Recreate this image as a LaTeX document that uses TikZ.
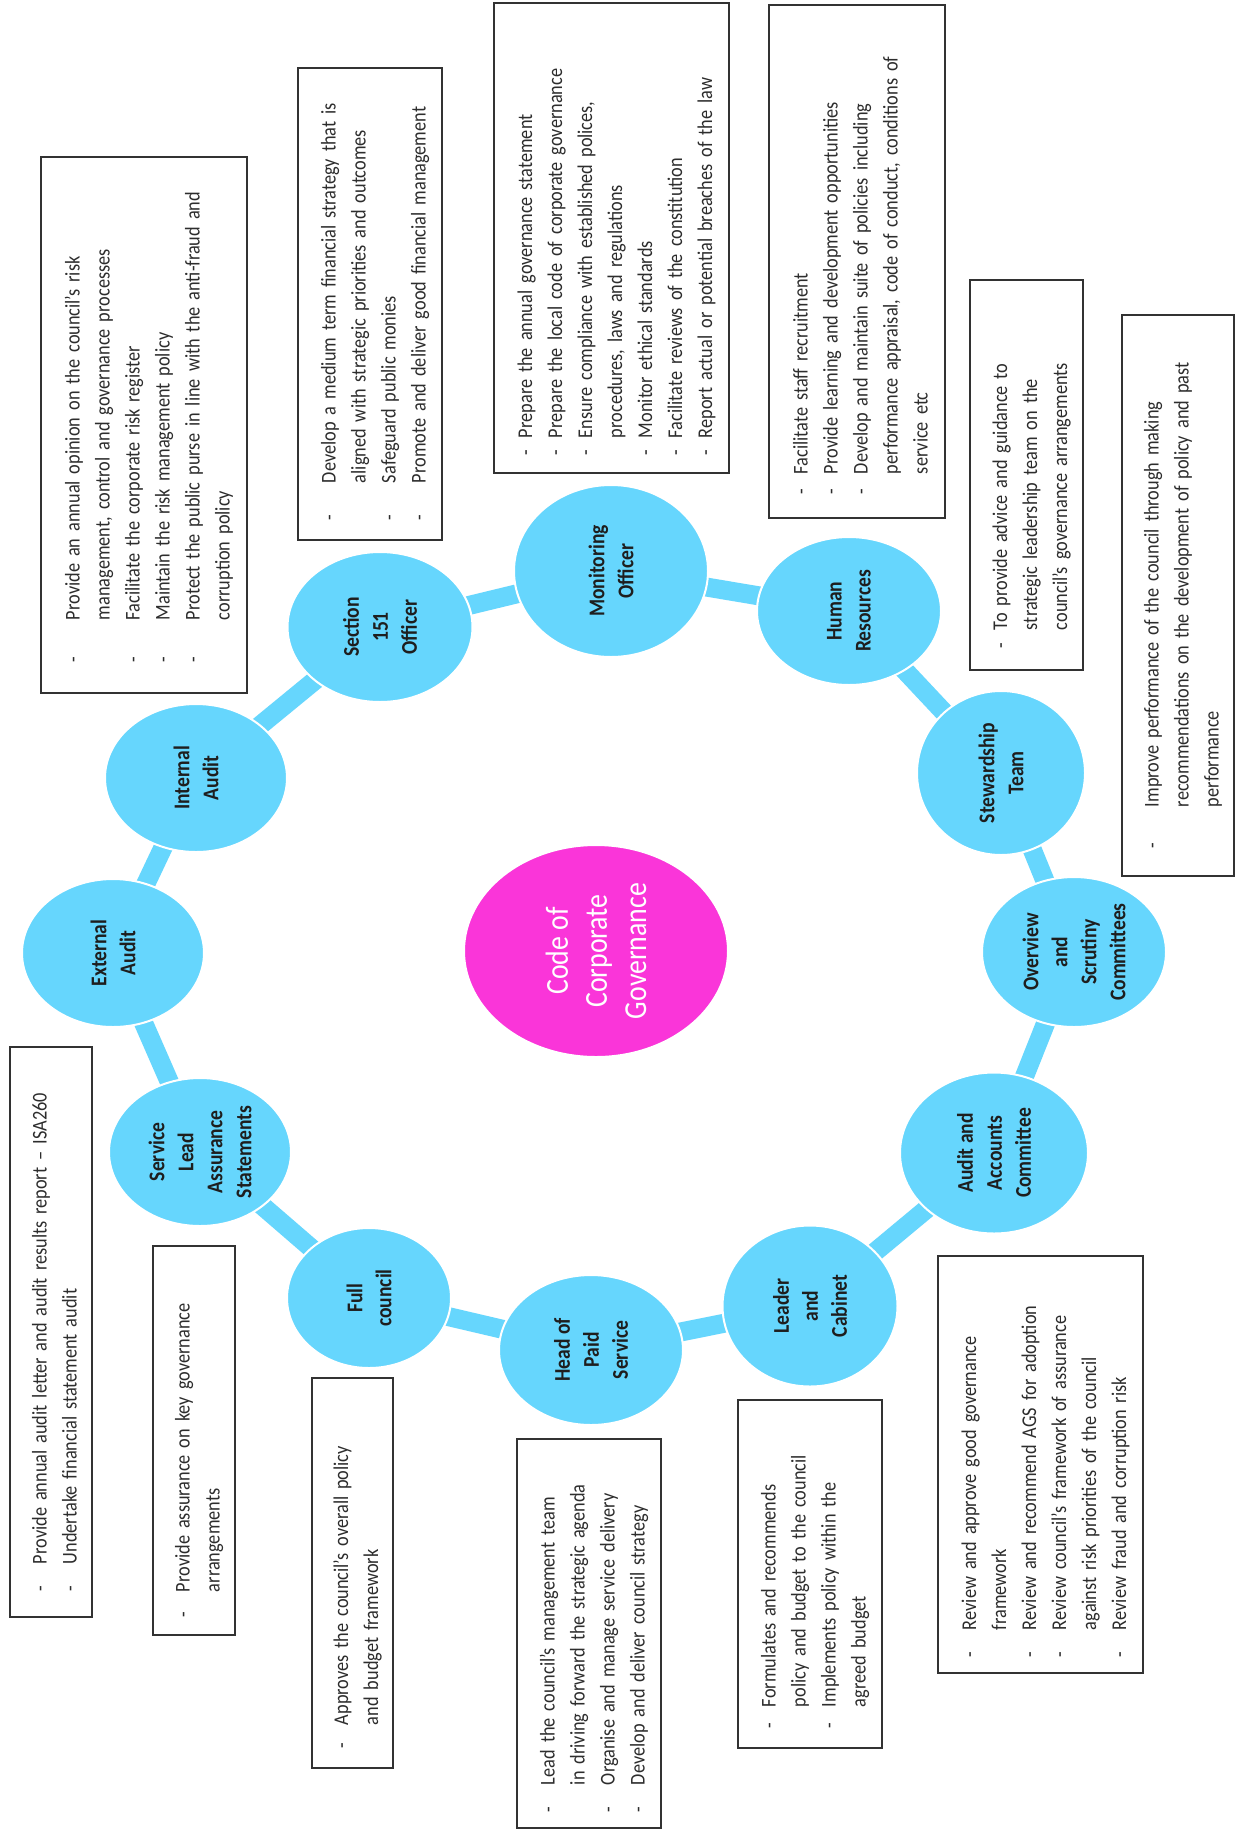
\documentclass[tikz,border=0pt]{standalone}
\usepackage{fontspec}
\setmainfont{Carlito}[FakeStretch=0.87]
\usetikzlibrary{shapes.geometric,backgrounds}
\definecolor{cblue}{RGB}{102,214,253}
\definecolor{cpink}{RGB}{250,53,217}
\definecolor{ctext}{RGB}{30,30,30}
\definecolor{btext}{RGB}{45,45,45}
\definecolor{boxline}{RGB}{50,50,50}
\newlength\hid
\newcommand\bi[1]{\par\noindent\makebox[\hid][l]{-}\begin{tabular}[t]{@{}l@{}}#1\end{tabular}\par}
\tikzset{
  circ/.style={ellipse, rotate=90, fill=cblue, draw=white, line width=2pt, inner sep=0pt,
    align=center, text=ctext, font=\bfseries\fontsize{22.5}{29}\selectfont},
  hub/.style={ellipse, rotate=90, fill=cpink, draw=white, line width=2pt, inner sep=0pt,
    align=center, text=white, font=\fontsize{32}{39}\selectfont},
  bar/.style={draw=cblue, line width=19pt},
  infobox/.style n args={5}{rotate=90, draw=boxline, line width=2.3pt, fill=white,
    minimum width=#1pt, minimum height=#2pt, inner xsep=#3pt, inner ysep=0pt,
    text width=#4pt, text=btext, font=\fontsize{21}{30}\selectfont,
    execute at begin node={\setlength\hid{#5pt}\lineskip=0pt\relax}}
}
\begin{document}
\begin{tikzpicture}[x=1pt,y=-1pt]
\useasboundingbox (0,0) rectangle (1239,1831);
% ring nodes
\node[circ, minimum width=148pt, minimum height=182pt] (ea) at (113,953) {External\\Audit};
\node[circ, minimum width=148pt, minimum height=182pt] (ia) at (196,778) {Internal\\Audit};
\node[circ, minimum width=150pt, minimum height=185pt] (sf) at (380,627) {Section\\151\\Officer};
\node[circ, minimum width=172pt, minimum height=194pt] (mo) at (611,571) {Monitoring\\Officer};
\node[circ, minimum width=148pt, minimum height=184pt] (hr) at (849,611) {Human\\Resources};
\node[circ, minimum width=164pt, minimum height=168pt] (st) at (1001,773) {Stewardship\\Team};
\node[circ, minimum width=150pt, minimum height=184pt] (os) at (1074,952) {Overview\\and\\Scrutiny\\Committees};
\node[circ, minimum width=161pt, minimum height=188pt] (aa) at (994,1153) {Audit and\\Accounts\\Committee};
\node[circ, minimum width=161pt, minimum height=175pt] (lc) at (810,1306) {Leader\\and\\Cabinet};
\node[circ, minimum width=150pt, minimum height=184pt] (hp) at (591,1350) {Head of\\Paid\\Service};
\node[circ, minimum width=140pt, minimum height=164pt] (fc) at (369,1298) {Full\\council};
\node[circ, minimum width=148pt, minimum height=182pt] (sl) at (200,1152) {Service\\Lead\\Assurance\\Statements};
\node[hub, minimum width=212pt, minimum height=264pt] (cg) at (596,951) {Code of\\Corporate\\Governance};
% connectors
\begin{pgfonlayer}{background}
\fill[white] (0,0) rectangle (1239,1831);
\draw[bar] (ea.center) -- (ia.center);
\draw[bar] (ia.center) -- (sf.center);
\draw[bar] (sf.center) -- (mo.center);
\draw[bar] (mo.center) -- (hr.center);
\draw[bar] (hr.center) -- (st.center);
\draw[bar] (st.center) -- (os.center);
\draw[bar] (os.center) -- (aa.center);
\draw[bar] (aa.center) -- (lc.center);
\draw[bar] (lc.center) -- (hp.center);
\draw[bar] (hp.center) -- (fc.center);
\draw[bar] (fc.center) -- (sl.center);
\draw[bar] (sl.center) -- (ea.center);
\end{pgfonlayer}
% text boxes
\node[infobox={536}{206}{31}{474}{42}] (bA) at (144,425) {%
\bi{Provide an annual opinion on the council’s risk\\ management, control and governance processes}%
\bi{Facilitate the corporate risk register}%
\bi{Maintain the risk management policy}%
\bi{Protect the public purse in line with the anti-fraud and\\ corruption policy}};
\node[infobox={472}{144}{20}{432}{37}] (bB) at (370,304) {%
\bi{Develop a medium term financial strategy that is\\ aligned with strategic priorities and outcomes}%
\bi{Safeguard public monies}%
\bi{Promote and deliver good financial management}};
\node[infobox={470}{235}{18}{434}{17}] (bC) at (611.5,238) {%
\bi{Prepare the annual governance statement}%
\bi{Prepare the local code of corporate governance}%
\bi{Ensure compliance with established polices,\\ procedures, laws and regulations}%
\bi{Monitor ethical standards}%
\bi{Facilitate reviews of the constitution}%
\bi{Report actual or potential breaches of the law}};
\node[infobox={513}{176}{24}{465}{20}] (bD) at (857,261.5) {%
\bi{Facilitate staff recruitment}%
\bi{Provide learning and development opportunities}%
\bi{Develop and maintain suite of policies including\\ performance appraisal, code of conduct, conditions of\\ service etc}};
\node[infobox={390}{113}{22}{346}{18}] (bE) at (1026.5,475) {%
\bi{To provide advice and guidance to\\ strategic leadership team on the\\ council’s governance arrangements}};
\node[infobox={561}{112}{28}{505}{41}] (bF) at (1178,595.5) {%
\bi{Improve performance of the council through making\\ recommendations on the development of policy and past\\ performance}};
\node[infobox={417}{205}{16}{385}{27}] (bG) at (1040.5,1464.5) {%
\bi{Review and approve good governance\\ framework}%
\bi{Review and recommend AGS for adoption}%
\bi{Review council’s framework of assurance\\ against risk priorities of the council}%
\bi{Review fraud and corruption risk}};
\node[infobox={348}{144}{20}{308}{21}] (bH) at (810,1574) {%
\bi{Formulates and recommends\\ policy and budget to the council}%
\bi{Implements policy within the\\ agreed budget}};
\node[infobox={389}{144}{16}{357}{27}] (bI) at (589,1633.5) {%
\bi{Lead the council’s management team\\ in driving forward the strategic agenda}%
\bi{Organise and manage service delivery}%
\bi{Develop and deliver council strategy}};
\node[infobox={390}{81}{20}{350}{23}] (bJ) at (352.5,1573) {%
\bi{Approves the council’s overall policy\\ and budget framework}};
\node[infobox={389}{82}{18}{353}{25}] (bK) at (194,1440.5) {%
\bi{Provide assurance on key governance\\ arrangements}};
\node[infobox={570}{82}{26}{518}{27}] (bL) at (51,1332) {%
\bi{Provide annual audit letter and audit results report – ISA260}%
\bi{Undertake financial statement audit}};
\end{tikzpicture}
\end{document}
